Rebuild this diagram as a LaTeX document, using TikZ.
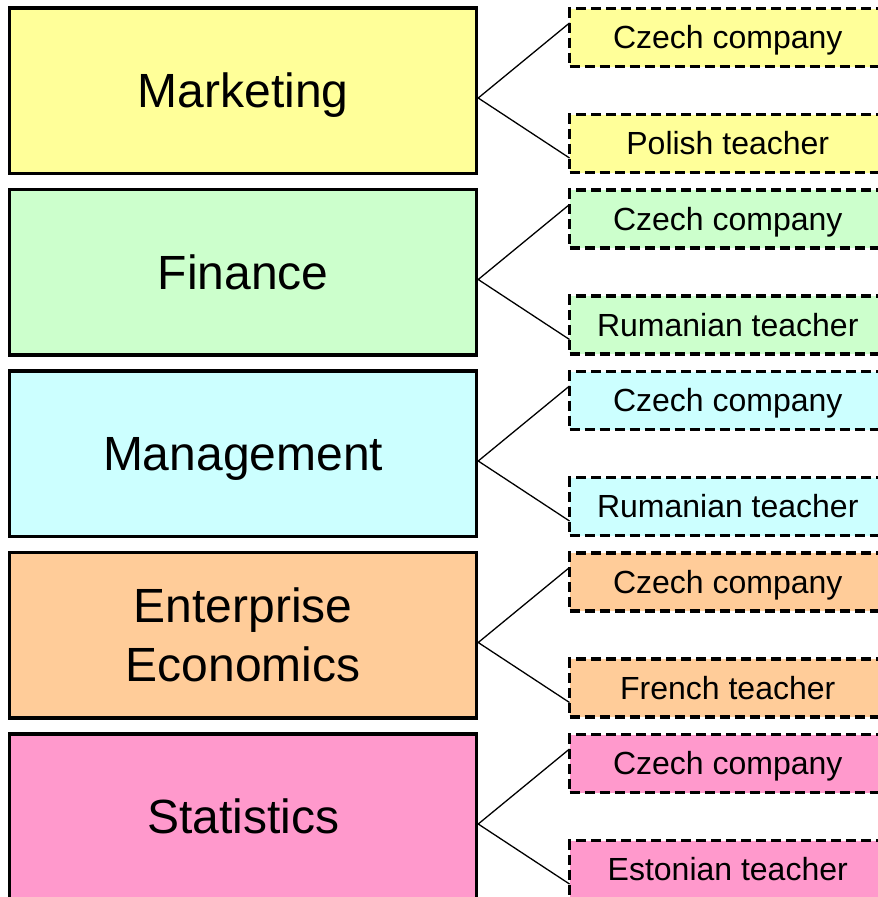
\documentclass[tikz,border=0pt]{standalone}
\usepackage{fontspec}
\setmainfont{Liberation Sans}
\definecolor{cyellow}{HTML}{FFFF99}
\definecolor{cgreen}{HTML}{CCFFCC}
\definecolor{ccyan}{HTML}{CCFFFF}
\definecolor{corange}{HTML}{FFCC99}
\definecolor{cpink}{HTML}{FF99CC}
\begin{document}
\begin{tikzpicture}[x=1pt,y=-1pt,
  subject/.style={draw=black, line width=3.5pt, rectangle, inner sep=0pt, outer sep=0pt,
    minimum width=466.75pt, minimum height=165.5pt,
    font=\fontsize{48}{59}\selectfont, align=center},
  oneline/.style={text height=34.4pt, text depth=0pt},
  partner/.style={draw=black, line width=3.2pt, dash pattern=on 10pt off 5pt, rectangle,
    inner sep=0pt, outer sep=0pt, minimum width=316.5pt, minimum height=58pt,
    font=\fontsize{32}{38}\selectfont, text height=22.9pt, text depth=0pt},
  link/.style={draw=black, line width=1.3pt}]
\useasboundingbox (0,0) rectangle (878,897);
\clip (0,0) rectangle (878,897);

% subject boxes, one row every 181.5pt
\node[subject, oneline, fill=cyellow] (mk) at (243.1, 90.5) {Marketing};
\node[subject, oneline, fill=cgreen]  (fi) at (243.1, 272.0) {Finance};
\node[subject, oneline, fill=ccyan]   (mg) at (243.1, 453.5) {Management};
\node[subject, fill=corange]          (ee) at (243.1, 635.0) {Enterprise\\Economics};
\node[subject, oneline, fill=cpink]   (st) at (243.1, 816.5) {Statistics};

% partner boxes
\node[partner, fill=cyellow] (mk1) at (727.75, 37.5)  {Czech company};
\node[partner, fill=cyellow] (mk2) at (727.75, 143.5) {Polish teacher};
\node[partner, fill=cgreen]  (fi1) at (727.75, 219.0) {Czech company};
\node[partner, fill=cgreen]  (fi2) at (727.75, 325.0) {Rumanian teacher};
\node[partner, fill=ccyan]   (mg1) at (727.75, 400.5) {Czech company};
\node[partner, fill=ccyan]   (mg2) at (727.75, 506.5) {Rumanian teacher};
\node[partner, fill=corange] (ee1) at (727.75, 582.0) {Czech company};
\node[partner, fill=corange] (ee2) at (727.75, 688.0) {French teacher};
\node[partner, fill=cpink]   (st1) at (727.75, 763.5) {Czech company};
\node[partner, fill=cpink]   (st2) at (727.75, 869.5) {Estonian teacher};

% fork connectors
\foreach \s in {mk,fi,mg,ee,st}{
  \draw[link] ([yshift=14.5pt]\s1.west) -- ([xshift=1.75pt,yshift=-7.5pt]\s.east)
              -- ([yshift=-14.5pt]\s2.west);
}
\end{tikzpicture}
\end{document}
